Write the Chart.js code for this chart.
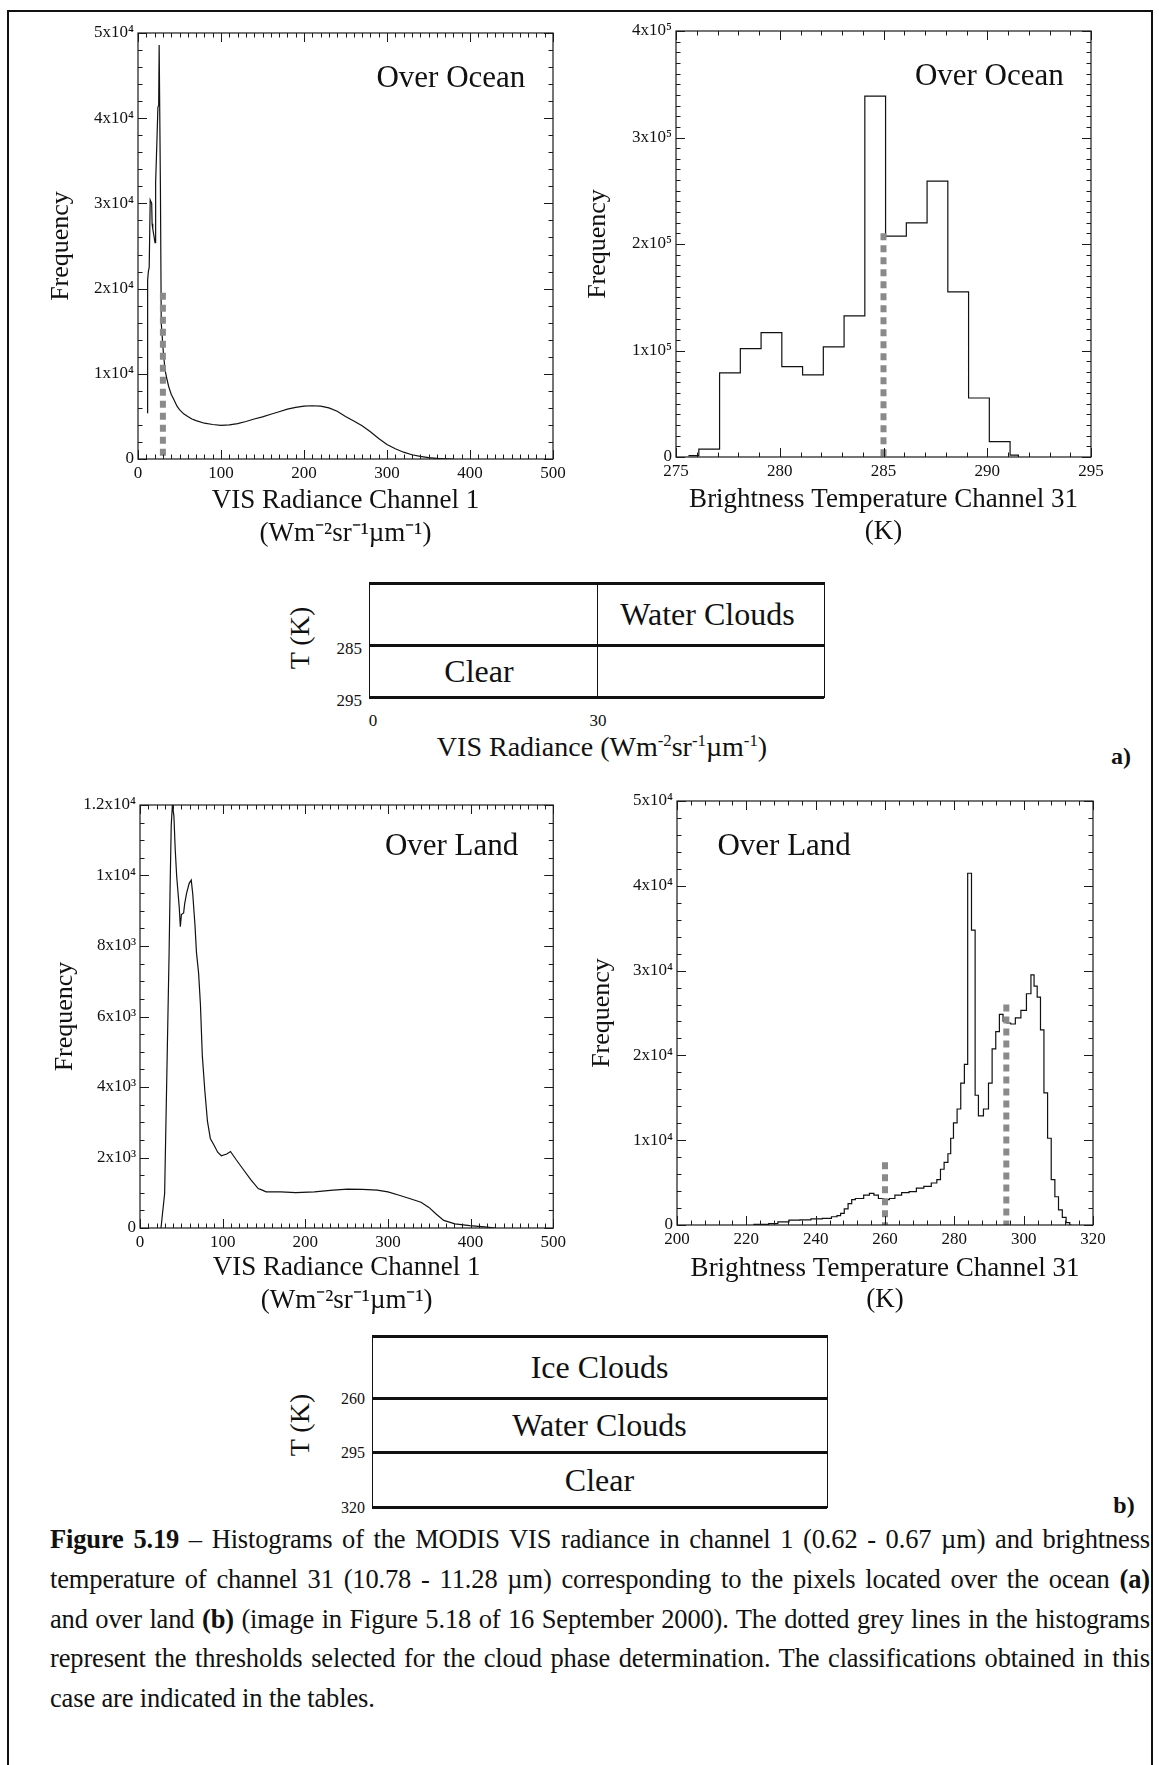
<!DOCTYPE html>
<html>
<head>
<meta charset="utf-8">
<script src="https://cdn.jsdelivr.net/npm/chart.js@4.4.1/dist/chart.umd.min.js"></script>
<style>
html, body { margin: 0; padding: 0; background: #fff; }
#page { position: relative; width: 1159px; height: 1765px; overflow: hidden;
        font-family: "Liberation Serif", "Times New Roman", serif; color: #111; }
#page canvas { position: absolute; }
.frame { position: absolute; left: 7px; top: 10px; width: 1146px; height: 1820px;
         border: 2px solid #111; box-sizing: border-box; }
.ln { position: absolute; background: #111; }
.tx { position: absolute; white-space: nowrap; transform: translate(-50%, -50%); }
.tr { position: absolute; white-space: nowrap; transform: translate(-100%, -50%); }
.cap { position: absolute; left: 50px; width: 1100px; font-size: 26.5px; line-height: 40px;
       letter-spacing: -0.15px; text-align: justify; text-align-last: justify; white-space: nowrap; }
.cap.last { text-align-last: left; }
sup { font-size: 60%; }
</style>
</head>
<body>
<div id="page">
  <div class="frame"></div>
  <canvas id="c1"></canvas>
  <canvas id="c2"></canvas>
  <canvas id="c3"></canvas>
  <canvas id="c4"></canvas>
</div>
<script>
// ---- (a) VIS radiance, ocean ----
const p1X = [11.5, 11.6, 12.5, 13.5, 14.7, 16.5, 17, 17.8, 19, 20.5, 21, 21.5, 22.7, 24, 24.9,
  25.5, 26.5, 27, 28, 30.3, 32.5, 35, 37, 40, 43.6, 47, 50, 55, 60, 65, 70, 80, 90, 100, 110,
  120, 130, 140, 150, 160, 170, 180, 190, 200, 210, 220, 230, 240, 250, 260, 270, 280, 290,
  300, 310, 320, 330, 340, 350, 360, 370, 380];
const p1Y = [5400, 21000, 22000, 22500, 30400, 30000, 27600, 27000, 26300, 25400, 32500, 32500,
  37000, 41300, 41500, 48600, 48600, 32000, 16000, 12800, 10500, 9300, 8500, 7600, 6900, 6200,
  5800, 5300, 5000, 4700, 4500, 4200, 4050, 3950, 4000, 4150, 4400, 4700, 4950, 5250, 5550,
  5850, 6050, 6200, 6250, 6200, 6000, 5600, 5000, 4450, 3900, 3200, 2400, 1700, 1200, 800,
  500, 300, 170, 80, 30, 0];
const p1ThreshX = [30, 30];
const p1ThreshY = [19500, 0];
const p1XTicks = ['0', '100', '200', '300', '400', '500'];
const p1YTicks = ['0', '1x10⁴', '2x10⁴', '3x10⁴', '4x10⁴', '5x10⁴'];

// ---- (a) brightness temperature, ocean (bin left edges) ----
const p2X = [275.6, 276.1, 277.1, 278.1, 279.1, 280.1, 281.1, 282.1, 283.1, 284.1, 285.1,
  286.1, 287.1, 288.1, 289.1, 290.1, 291.1, 291.5];
const p2Y = [1200, 7400, 78900, 101700, 116800, 84900, 77200, 103400, 132500, 338900, 207400,
  219800, 259100, 155000, 55400, 14400, 1700, 0];
const p2ThreshX = [285, 285];
const p2ThreshY = [210000, 0];
const p2XTicks = ['275', '280', '285', '290', '295'];
const p2YTicks = ['0', '1x10⁵', '2x10⁵', '3x10⁵', '4x10⁵'];

// ---- (b) VIS radiance, land ----
const p3X = [25.4, 29.8, 32.9, 35.2, 36.5, 37.8, 39.2, 41, 42.6, 44.4, 47.5, 48.8, 50.1, 52.8,
  54, 56.2, 59.4, 62, 63.8, 66.5, 68.3, 70.9, 73.1, 75.4, 78.4, 81.6, 85.1, 89.6, 94, 98.4,
  105, 109.5, 116, 125, 134, 143, 148, 152.6, 170.5, 188.5, 211, 233.5, 251.3, 269, 287, 300,
  313.6, 327, 340, 349.6, 358.6, 367.5, 381, 399, 416.8, 430];
const p3Y = [0, 980, 4890, 7800, 9770, 11430, 12000, 11700, 10750, 9970, 9090, 8550, 8890, 8940,
  9190, 9480, 9770, 9870, 9480, 8600, 7820, 7230, 6350, 4890, 3910, 3030, 2540, 2350, 2150,
  2050, 2100, 2170, 1950, 1660, 1370, 1120, 1075, 1025, 1025, 1005, 1025, 1075, 1100, 1094,
  1075, 1025, 930, 830, 730, 585, 390, 215, 117, 68, 30, 0];
const p3XTicks = ['0', '100', '200', '300', '400', '500'];
const p3YTicks = ['0', '2x10³', '4x10³', '6x10³', '8x10³', '1x10⁴', '1.2x10⁴'];

// ---- (b) brightness temperature, land ----
const p4X = [222, 225.4, 227.5, 230.7, 233.9, 237, 240.3, 243.5, 245.6, 246.7, 247.7, 248.8,
  249.9, 250.9, 252, 253, 254.7, 256.3, 257.3, 258.9, 260.5, 262, 263.7, 265.9, 268, 270.1,
  272.3, 274.4, 275.5, 276.5, 277.6, 278.7, 279.2, 280.3, 281.3, 282.4, 283.4, 284.3, 285.6,
  286.4, 287.5, 289.3, 290.4, 291.4, 292.5, 293.5, 294.6, 295.7, 296.8, 298.4, 300, 301.6,
  302.6, 303.4, 304.4, 305.3, 306.4, 307.4, 308.5, 309.5, 310.6, 311.7, 312.8, 313.8];
const p4Y = [80, 80, 160, 365, 570, 610, 730, 770, 975, 1100, 1380, 1910, 2520, 3000, 3125,
  3125, 3530, 3730, 3530, 3125, 3000, 3125, 3530, 3815, 3940, 4340, 4545, 4950, 5360, 6575,
  7390, 8400, 10230, 12050, 13680, 16720, 18950, 41480, 34780, 15300, 12870, 13680, 16720,
  20780, 22810, 24840, 24030, 23820, 23700, 24430, 25320, 27270, 29500, 28170, 26870, 23010,
  15580, 10230, 5360, 3330, 1790, 890, 280, 0];
const p4ThreshAX = [260, 260];
const p4ThreshAY = [7400, 0];
const p4ThreshBX = [295, 295];
const p4ThreshBY = [26000, 0];
const p4XTicks = ['200', '220', '240', '260', '280', '300', '320'];
const p4YTicks = ['0', '1x10⁴', '2x10⁴', '3x10⁴', '4x10⁴', '5x10⁴'];

// ---- classification tables ----
const tableACells = [['', 'Water Clouds'], ['Clear', '']];
const tableATicksY = ['285', '295'];
const tableATicksX = ['0', '30'];
const tableBRows = ['Ice Clouds', 'Water Clouds', 'Clear'];
const tableBTicks = ['260', '295', '320'];

Chart.defaults.font.family = '"Liberation Serif", "Times New Roman", serif';
Chart.defaults.color = '#111';

function zip(xs, ys) {
  return xs.map((x, i) => ({ x, y: ys[i] }));
}

function isMajor(v, step) {
  const r = v / step;
  return Math.abs(r - Math.round(r)) < 1e-6;
}

// IDL-style box: frame plus inward ticks on all four sides, and the panel label
const boxTicks = {
  id: 'boxTicks',
  afterDatasetsDraw(chart, args, o) {
    const { ctx, chartArea: a } = chart;
    const sx = chart.scales.x, sy = chart.scales.y;
    ctx.save();
    ctx.strokeStyle = '#1a1a1a';
    ctx.lineWidth = 1.2;
    ctx.strokeRect(a.left, a.top, a.right - a.left, a.bottom - a.top);
    ctx.lineWidth = 1;
    ctx.beginPath();
    const nx = Math.round((sx.max - sx.min) / o.xMinor);
    for (let i = 0; i <= nx; i++) {
      const v = sx.min + i * o.xMinor;
      const px = Math.round(sx.getPixelForValue(v)) + 0.5;
      const len = isMajor(v, o.xMajor) ? 9 : 4.5;
      ctx.moveTo(px, a.bottom); ctx.lineTo(px, a.bottom - len);
      ctx.moveTo(px, a.top); ctx.lineTo(px, a.top + len);
    }
    const ny = Math.round((sy.max - sy.min) / o.yMinor);
    for (let i = 0; i <= ny; i++) {
      const v = sy.min + i * o.yMinor;
      const py = Math.round(sy.getPixelForValue(v)) + 0.5;
      const len = isMajor(v, o.yMajor) ? 9 : 4.5;
      ctx.moveTo(a.left, py); ctx.lineTo(a.left + len, py);
      ctx.moveTo(a.right, py); ctx.lineTo(a.right - len, py);
    }
    ctx.stroke();
    if (o.label) {
      ctx.font = '31px "Liberation Serif", serif';
      ctx.fillStyle = '#111';
      ctx.textAlign = 'center';
      ctx.textBaseline = 'middle';
      ctx.fillText(o.label.text, sx.getPixelForValue(o.label.x), sy.getPixelForValue(o.label.y));
    }
    ctx.restore();
  }
};

function threshold(xs, ys) {
  return {
    data: zip(xs, ys),
    borderColor: '#8a8a8a',
    borderWidth: 6,
    borderDash: [7, 5],
    borderCapStyle: 'butt',
    pointRadius: 0,
    order: 0,
  };
}

function histogram(id, p) {
  const cv = document.getElementById(id);
  cv.width = p.box.w;
  cv.height = p.box.h;
  cv.style.left = p.box.x + 'px';
  cv.style.top = p.box.y + 'px';
  const yW = p.plot.l - p.box.x;
  const xH = p.box.y + p.box.h - p.plot.b;
  const gap = p.xTitle.gap;
  const n = p.xTitle.text.length;
  const xTitlePad = p.box.y + p.box.h - (p.xTitle.y + gap * (n - 1) + gap / 2);
  const yLh = 30;
  const yTitlePad = p.yTitleX - p.box.x - yLh / 2;

  const sets = p.thresholds.map((t) => threshold(t[0], t[1]));
  sets.push({
    data: zip(p.xs, p.ys),
    borderColor: '#111',
    borderWidth: 1.2,
    pointRadius: 0,
    stepped: p.stepped || false,
    tension: 0,
    order: 1,
  });

  new Chart(cv, {
    type: 'line',
    data: { datasets: sets },
    plugins: [boxTicks],
    options: {
      responsive: false,
      animation: false,
      devicePixelRatio: 1,
      events: [],
      layout: { padding: { left: 0, top: p.plot.t - p.box.y, right: p.box.x + p.box.w - p.plot.r, bottom: 0 } },
      plugins: {
        legend: { display: false },
        tooltip: { enabled: false },
        boxTicks: { xMinor: p.xMinor, xMajor: p.xStep, yMinor: p.yMinor, yMajor: p.yStep, label: p.label },
      },
      scales: {
        x: {
          type: 'linear', min: p.xMin, max: p.xMax,
          grid: { display: false, drawTicks: false },
          border: { display: false },
          ticks: {
            stepSize: p.xStep, autoSkip: false, maxRotation: 0, padding: 4,
            font: { size: 17 },
            callback: (v, i) => p.xTicks[i],
          },
          title: {
            display: true, text: p.xTitle.text,
            font: { size: 27, lineHeight: gap / 27 },
            padding: { top: 0, bottom: xTitlePad },
          },
          afterFit: (s) => { s.height = xH; },
        },
        y: {
          type: 'linear', min: 0, max: p.yMax,
          grid: { display: false, drawTicks: false },
          border: { display: false },
          ticks: {
            stepSize: p.yStep, autoSkip: false, padding: 4,
            font: { size: 17 },
            callback: (v, i) => p.yTicks[i],
          },
          title: {
            display: true, text: 'Frequency',
            font: { size: 26, lineHeight: yLh / 26 },
            padding: { top: yTitlePad, bottom: 0 },
          },
          afterFit: (s) => { s.width = yW; },
        },
      },
    },
  });
}

const visTitle = ['VIS Radiance Channel 1', '(Wm⁻²sr⁻¹µm⁻¹)'];
const btTitle = ['Brightness Temperature Channel 31', '(K)'];

histogram('c1', {
  box: { x: 10, y: 14, w: 560, h: 550 }, plot: { l: 138, t: 33, r: 553, b: 459 },
  xs: p1X, ys: p1Y, thresholds: [[p1ThreshX, p1ThreshY]],
  xMin: 0, xMax: 500, xStep: 100, xMinor: 10, yMax: 50000, yStep: 10000, yMinor: 2000,
  xTicks: p1XTicks, yTicks: p1YTicks,
  xTitle: { text: visTitle, y: 501, gap: 33 }, yTitleX: 61,
  label: { text: 'Over Ocean', x: 377, y: 44600 },
});

histogram('c2', {
  box: { x: 580, y: 14, w: 560, h: 545 }, plot: { l: 676, t: 31, r: 1091, b: 457 },
  xs: p2X, ys: p2Y, thresholds: [[p2ThreshX, p2ThreshY]], stepped: true,
  xMin: 275, xMax: 295, xStep: 5, xMinor: 1, yMax: 400000, yStep: 100000, yMinor: 10000,
  xTicks: p2XTicks, yTicks: p2YTicks,
  xTitle: { text: btTitle, y: 500, gap: 32 }, yTitleX: 598,
  label: { text: 'Over Ocean', x: 290.1, y: 356800 },
});

histogram('c3', {
  box: { x: 10, y: 785, w: 560, h: 545 }, plot: { l: 140, t: 805, r: 555, b: 1228 },
  xs: p3X, ys: p3Y, thresholds: [],
  xMin: 0, xMax: 500, xStep: 100, xMinor: 10, yMax: 12000, yStep: 2000, yMinor: 500,
  xTicks: p3XTicks, yTicks: p3YTicks,
  xTitle: { text: visTitle, y: 1268, gap: 33 }, yTitleX: 65,
  label: { text: 'Over Land', x: 377, y: 10810 },
});

histogram('c4', {
  box: { x: 580, y: 785, w: 560, h: 540 }, plot: { l: 677, t: 801, r: 1093, b: 1225 },
  xs: p4X, ys: p4Y, thresholds: [[p4ThreshAX, p4ThreshAY], [p4ThreshBX, p4ThreshBY]],
  stepped: 'middle',
  xMin: 200, xMax: 320, xStep: 20, xMinor: 4, yMax: 50000, yStep: 10000, yMinor: 2000,
  xTicks: p4XTicks, yTicks: p4YTicks,
  xTitle: { text: btTitle, y: 1269, gap: 31 }, yTitleX: 602,
  label: { text: 'Over Land', x: 230.9, y: 44575 },
});

// ---- tables and caption (HTML) ----
const page = document.getElementById('page');

function line(x, y, w, h) {
  const d = document.createElement('div');
  d.className = 'ln';
  Object.assign(d.style, { left: x + 'px', top: y + 'px', width: w + 'px', height: h + 'px' });
  page.appendChild(d);
}

function text(str, x, y, size, cls, extra) {
  const d = document.createElement('div');
  d.className = cls || 'tx';
  d.innerHTML = str;
  Object.assign(d.style, { left: x + 'px', top: y + 'px', fontSize: size + 'px' }, extra || {});
  page.appendChild(d);
  return d;
}

// table (a)
const aL = 369, aR = 824, aDiv = 597, aRows = [583, 645, 697];
aRows.forEach((y) => line(aL, y - 1, aR - aL, 2.5));
[aL, aDiv, aR].forEach((x) => line(x - 0.5, aRows[0] - 1, 1.5, aRows[2] - aRows[0] + 2));
tableACells.forEach((row, r) => {
  row.forEach((c, k) => {
    if (!c) return;
    const cx = k === 0 ? (aL + aDiv) / 2 - 4 : (aDiv + aR) / 2 - 3;
    text(c, cx, (aRows[r] + aRows[r + 1]) / 2, 32);
  });
});
text(tableATicksY[0], 362, aRows[1] + 4, 17, 'tr');
text(tableATicksY[1], 362, aRows[2] + 4, 17, 'tr');
text(tableATicksX[0], aL + 4, 721, 17);
text(tableATicksX[1], aDiv + 1, 721, 17);
text('VIS Radiance (Wm<sup>-2</sup>sr<sup>-1</sup>µm<sup>-1</sup>)', 602, 747, 28);
text('T (K)', 300, 638, 28, 'tx', { transform: 'translate(-50%,-50%) rotate(-90deg)' });
text('<b>a)</b>', 1121, 756, 24);

// table (b)
const bL = 372, bR = 827, bRows = [1336, 1398, 1452, 1507];
bRows.forEach((y) => line(bL, y - 1, bR - bL, 2.5));
[bL, bR].forEach((x) => line(x - 0.5, bRows[0] - 1, 1.5, bRows[3] - bRows[0] + 2));
tableBRows.forEach((c, r) => text(c, (bL + bR) / 2, (bRows[r] + bRows[r + 1]) / 2, 32));
tableBTicks.forEach((t, i) => text(t, 365, bRows[i + 1] + 1, 16, 'tr'));
text('T (K)', 300, 1425, 28, 'tx', { transform: 'translate(-50%,-50%) rotate(-90deg)' });
text('<b>b)</b>', 1124, 1505, 24);

// caption
const captionLines = [
  '<b>Figure 5.19</b> – Histograms of the MODIS VIS radiance in channel 1 (0.62 - 0.67 µm) and brightness',
  'temperature of channel 31 (10.78 - 11.28 µm) corresponding to the pixels located over the ocean <b>(a)</b>',
  'and over land <b>(b)</b> (image in Figure 5.18 of 16 September 2000). The dotted grey lines in the histograms',
  'represent the thresholds selected for the cloud phase determination. The classifications obtained in this',
  'case are indicated in the tables.',
];
captionLines.forEach((s, i) => {
  const d = document.createElement('div');
  d.className = 'cap' + (i === captionLines.length - 1 ? ' last' : '');
  d.style.top = (1519 + i * 39.75) + 'px';
  d.innerHTML = s;
  page.appendChild(d);
});
</script>
</body>
</html>
